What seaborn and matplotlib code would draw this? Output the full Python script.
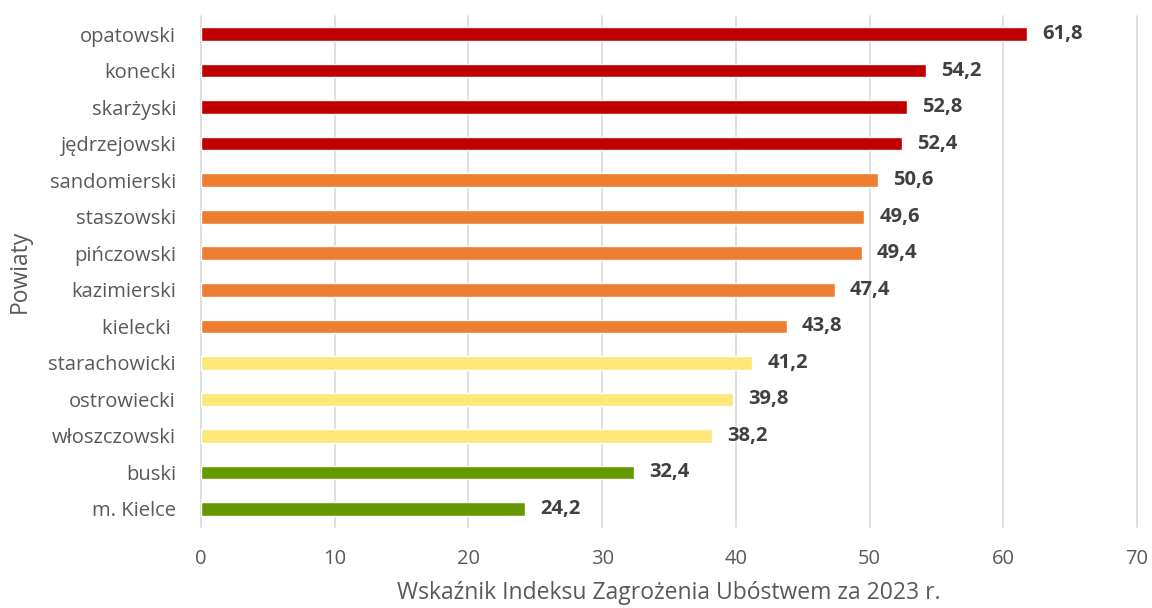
import matplotlib
matplotlib.use("Agg")
import matplotlib.pyplot as plt
import seaborn as sns
import pandas as pd

powiaty = ["opatowski", "konecki", "skarżyski", "jędrzejowski", "sandomierski",
           "staszowski", "pińczowski", "kazimierski", "kielecki ", "starachowicki",
           "ostrowiecki", "włoszczowski", "buski", "m. Kielce"]
wartosci = [61.8, 54.2, 52.8, 52.4, 50.6, 49.6, 49.4, 47.4, 43.8, 41.2, 39.8, 38.2, 32.4, 24.2]
grupy = ["wysoki"] * 4 + ["podwyższony"] * 5 + ["umiarkowany"] * 3 + ["niski"] * 2
kolory = {"wysoki": "#C00000", "podwyższony": "#ED7D31",
          "umiarkowany": "#FDE67A", "niski": "#669900"}

df = pd.DataFrame({"powiat": powiaty, "wartosc": wartosci, "grupa": grupy})

sns.set_theme(style="white")
plt.rcParams["font.family"] = ["Open Sans", "DejaVu Sans"]

fig = plt.figure(figsize=(11.52, 6.08), dpi=100)
ax = fig.add_axes([0.1745, 0.1332, 0.8125, 0.8405])

sns.barplot(data=df, y="powiat", x="wartosc", hue="grupa", palette=kolory,
            order=powiaty, dodge=False, width=0.37, legend=False, ax=ax,
            saturation=1)

ax.set_xlim(0, 70)
ax.set_ylim(13.5, -0.5)
ax.set_xticks(range(0, 71, 10))
ax.grid(axis="x", color="#D9D9D9", linewidth=1.2)
for gl in ax.get_xgridlines():
    gl.set_clip_on(False)
ax.set_axisbelow(True)
for s in ax.spines.values():
    s.set_visible(False)

ax.tick_params(axis="both", length=0, labelcolor="#595959")
ax.tick_params(axis="x", pad=16, labelsize=14.5)
ax.tick_params(axis="y", pad=18, labelsize=14.5)

for i, v in enumerate(wartosci):
    ax.annotate(f"{v:.1f}".replace(".", ","), xy=(v, i), xytext=(11, 0),
                textcoords="offset points", va="center", ha="left",
                fontsize=14.5, fontweight="bold", color="#404040")

ax.set_xlabel("Wskaźnik Indeksu Zagrożenia Ubóstwem za 2023 r.",
              fontsize=16.5, color="#595959")
ax.xaxis.set_label_coords(0.5, -0.105)
ax.set_ylabel("Powiaty", fontsize=16.5, color="#595959")
ax.yaxis.set_label_coords(-0.181, 0.5)

fig.savefig("out.png", dpi=100)
